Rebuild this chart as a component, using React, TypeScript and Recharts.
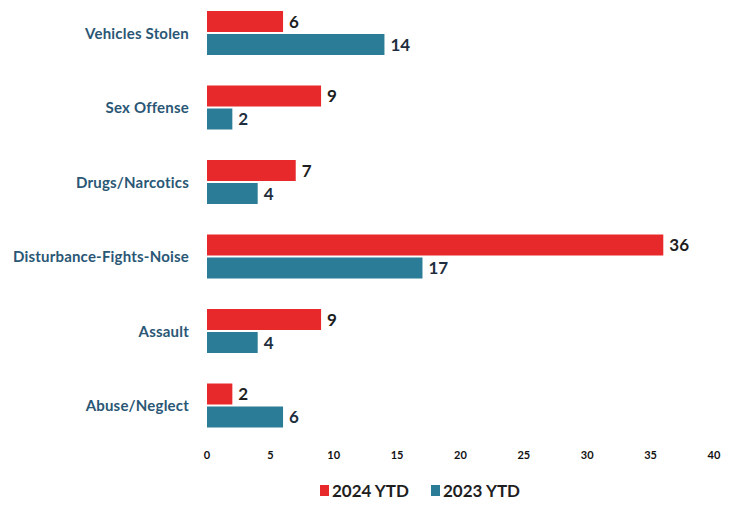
import { BarChart, Bar, XAxis, YAxis, Legend, LabelList } from 'recharts'

const categories = [
  'Vehicles Stolen',
  'Sex Offense',
  'Drugs/Narcotics',
  'Disturbance-Fights-Noise',
  'Assault',
  'Abuse/Neglect',
]
const ytd2024 = [6, 9, 7, 36, 9, 2]
const ytd2023 = [14, 2, 4, 17, 4, 6]
const xTicks = [0, 5, 10, 15, 20, 25, 30, 35, 40]

const RED = '#e8292b'
const TEAL = '#2b7d97'
const FONT = 'Lato, "Open Sans", sans-serif'

const rows = categories.map((name, i) => ({
  name,
  y2024: ytd2024[i],
  y2023: ytd2023[i],
}))

function LegendBox() {
  const items = [
    { label: '2024 YTD', color: RED },
    { label: '2023 YTD', color: TEAL },
  ]
  return (
    <div style={{ display: 'flex', justifyContent: 'center', gap: 22, paddingLeft: 118, fontFamily: FONT }}>
      {items.map((it) => (
        <div key={it.label} style={{ display: 'flex', alignItems: 'center', gap: 3 }}>
          <span style={{ width: 9, height: 11, background: it.color, display: 'inline-block' }} />
          <span style={{ fontSize: 17, fontWeight: 700, color: '#1e1e1e' }}>{it.label}</span>
        </div>
      ))}
    </div>
  )
}

export default function App() {
  return (
    <div style={{ marginTop: -12, background: '#fff' }}>
      <BarChart
        width={720}
        height={506}
        data={rows}
        layout="vertical"
        margin={{ top: 0, right: 14, left: 0, bottom: 0 }}
        barSize={21}
        barGap={2}
      >
        <XAxis
          type="number"
          domain={[0, 40]}
          ticks={xTicks}
          axisLine={false}
          tickLine={false}
          height={29}
          tick={{ fontSize: 11, fontWeight: 700, fill: '#111', fontFamily: FONT }}
        />
        <YAxis
          type="category"
          dataKey="name"
          width={199}
          axisLine={false}
          tickLine={false}
          tickMargin={12}
          tick={{ fontSize: 15, fontWeight: 700, fill: '#2a5775', fontFamily: FONT, letterSpacing: 0.2 }}
        />
        <Legend
          verticalAlign="bottom"
          height={30}
          wrapperStyle={{ bottom: -8 }}
          content={<LegendBox />}
        />
        <Bar dataKey="y2024" fill={RED} isAnimationActive={false}>
          <LabelList
            dataKey="y2024"
            position="right"
            offset={6}
            style={{ fontSize: 17, fontWeight: 700, fill: '#1e1e1e', fontFamily: FONT }}
          />
        </Bar>
        <Bar dataKey="y2023" fill={TEAL} isAnimationActive={false}>
          <LabelList
            dataKey="y2023"
            position="right"
            offset={6}
            style={{ fontSize: 17, fontWeight: 700, fill: '#1e2e3e', fontFamily: FONT }}
          />
        </Bar>
      </BarChart>
    </div>
  )
}
